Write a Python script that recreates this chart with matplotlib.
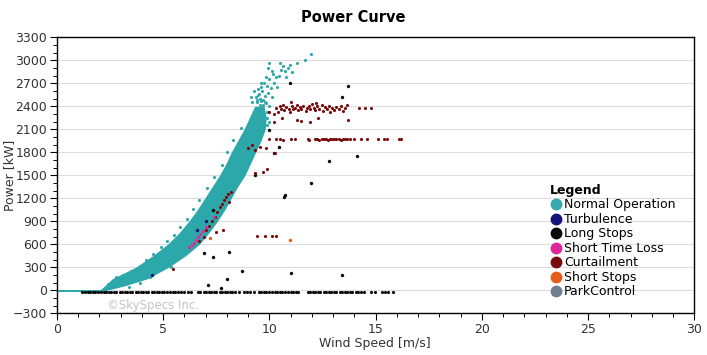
import matplotlib
matplotlib.use("Agg")
import matplotlib.pyplot as plt
from matplotlib.lines import Line2D
from matplotlib.ticker import MultipleLocator

# ---- data ----
# dense core of the normal-operation cloud (wind speed bounds per power level)
band_power = [10, 60, 150, 300, 450, 600, 750, 900, 1050, 1200, 1350, 1500, 1650, 1800, 1950, 2100, 2250, 2400]
band_left = [2.05, 2.25, 2.6, 3.7, 4.5, 5.2, 5.75, 6.2, 6.6, 6.95, 7.3, 7.65, 7.95, 8.2, 8.5, 8.8, 9.05, 9.3]
band_right = [2.5, 3.2, 4.25, 5.25, 6.05, 6.7, 7.15, 7.55, 7.9, 8.2, 8.5, 8.85, 9.1, 9.35, 9.6, 9.8, 9.85, 9.75]
# flat part of normal operation near 0 kW
flat_wind = [0.0, 2.4]
flat_low = [-26, -26]
flat_high = [8, 8]

# loose normal-operation points
normal_wind = [2.4, 2.8, 3.1, 3.5, 3.9, 4.2, 4.5, 4.9, 5.2, 5.5, 5.8, 6.1, 6.4, 6.7, 7.05, 7.4,
               7.75, 8.0, 8.3, 8.65, 3.4, 3.9, 4.4, 5.35, 5.95, 6.45, 7.0, 7.4, 7.8, 8.3, 8.7, 9.05,
               9.3, 9.6, 9.9, 9.9, 9.95, 10.0, 9.2, 9.4, 9.55, 9.8, 9.15, 9.3, 9.45, 9.6,
               9.75, 9.9, 9.25, 9.4, 9.55, 9.7, 9.85, 10.0, 9.35, 9.5, 9.65, 9.8, 9.95, 10.1,
               9.6, 9.75, 9.9, 10.05, 10.2, 9.85, 10.0, 10.15, 10.35, 10.3, 9.95, 10.1, 10.45,
               10.55, 10.65, 10.75, 10.85, 10.95, 10.5, 11.3, 11.65, 11.97, 10.8, 11.05, 10.0,
               2.9, 3.3, 4.1, 4.8, 5.5, 6.1, 6.6, 7.0, 7.6, 8.0, 8.5, 9.5, 9.7, 9.45, 9.6]
normal_power = [80, 170, 200, 250, 320, 400, 470, 560, 640, 720, 830, 930, 1060, 1180, 1330, 1480,
                1640, 1800, 1960, 2120, 40, 90, 170, 300, 480, 640, 820, 940, 1120, 1380, 1600, 1800,
                1900, 2050, 2150, 2250, 2320, 2200, 2450, 2480, 2500, 2460, 2520, 2350, 2550, 2470,
                2290, 2330, 2600, 2450, 2420, 2480, 2440, 2400, 2520, 2560, 2600, 2540, 2580, 2520,
                2650, 2700, 2660, 2640, 2700, 2780, 2760, 2820, 2650, 2780, 2900, 2860, 2800,
                2880, 2930, 2860, 2900, 2940, 2960, 2970, 3000, 3080, 2780, 2850, 2960,
                130, 170, 300, 430, 600, 780, 900, 1060, 1250, 1400, 1700, 2380, 2420, 2620, 2700]

turb_wind = [4.45, 7.0, 6.6]
turb_power = [200, 900, 780]

# long stops: dense row just below 0 kW plus scattered points
stop_row_level = -18
stop_row_wind = [1.2, 1.3, 1.45, 1.55, 1.7, 1.8, 1.95, 2.05, 2.2, 2.3, 2.45, 2.55, 2.7, 2.8, 2.95,
                 3.05, 3.2, 3.3, 3.45, 3.55, 3.7, 3.8, 3.95, 4.05, 4.2, 4.3, 4.45, 4.55, 4.7, 4.8,
                 4.95, 5.05, 5.2, 5.3, 5.45, 5.55, 5.7, 5.85, 6.0, 6.15, 6.3, 6.65, 6.75, 6.9, 7.0,
                 7.15, 7.25, 7.4, 7.5, 7.65, 7.75, 7.9, 8.0, 8.15, 8.25, 8.4, 8.55, 8.8, 8.95, 9.1,
                 9.25, 9.5, 9.6, 9.75, 9.85, 10.0, 10.1, 10.25, 10.35, 10.5, 10.6, 10.75, 10.85,
                 11.0, 11.1, 11.25, 11.35, 11.8, 11.9, 12.05, 12.15, 12.3, 12.4, 12.55, 12.65, 12.8,
                 12.9, 13.05, 13.15, 13.3, 13.4, 13.55, 13.65, 13.8, 13.9, 14.05, 14.15, 14.3,
                 14.45, 14.8, 14.95, 15.3, 15.45, 15.6, 15.8]
long_wind = [6.9, 7.1, 7.35, 7.7, 8.0, 8.1, 8.7, 10.7, 10.75, 11.0, 11.95, 12.8, 13.4, 13.4,
             13.7, 14.1, 10.45, 10.2, 10.0, 10.95, 7.35, 9.3]
long_power = [488, 70, 435, 30, 150, 500, 250, 1220, 1240, 225, 1400, 1690, 200, 2520,
              2660, 1750, 1870, 1790, 2090, 2700, 1047, 1500]

stl_wind = [6.2, 6.35, 6.45, 6.55, 6.65, 6.75, 6.85, 7.0, 7.4]
stl_power = [560, 590, 620, 650, 690, 730, 770, 820, 960]

curt_wind = [10.3, 10.4, 10.5, 10.55, 10.65, 10.7, 10.8, 10.9, 10.95, 11.05, 11.1, 11.2, 11.3,
             11.35, 11.45, 11.5, 11.6, 11.7, 11.75, 11.85, 11.9, 12.0, 12.1, 12.15, 12.25, 12.35,
             12.45, 12.5, 12.6, 12.7, 12.8, 12.85, 12.95, 13.05, 13.15, 13.25, 13.35, 13.45,
             13.55, 13.65, 14.2, 14.5, 14.8, 11.0, 12.2, 10.2, 10.0,
             10.2, 11.3, 11.5, 12.3, 13.7, 10.6, 11.9,
             10.0, 10.3, 10.5, 10.65, 11.0, 11.2, 11.8, 11.85, 12.15, 12.25, 12.35, 12.45, 12.55,
             12.65, 12.75, 12.85, 12.95, 13.05, 13.15, 13.25, 13.35, 13.45, 13.55, 13.65, 13.8,
             14.0, 14.3, 14.6, 15.1, 15.4, 15.55, 16.1, 16.2,
             9.3, 9.55, 9.85, 10.25, 9.3, 9.7, 9.9, 9.4, 9.8, 10.1, 10.3, 5.45, 6.7, 6.9, 7.0,
             7.15, 7.3, 7.45, 7.5, 7.55, 7.65, 7.75, 7.8, 7.85, 7.95, 8.05, 8.2, 8.1, 9.0, 9.2]
curt_power = [2380, 2330, 2400, 2360, 2420, 2350, 2390, 2370, 2330, 2400, 2360, 2380, 2420,
              2350, 2390, 2370, 2410, 2340, 2380, 2400, 2360, 2430, 2380, 2350, 2400, 2370,
              2420, 2340, 2390, 2360, 2400, 2330, 2380, 2350, 2390, 2360, 2400, 2340,
              2380, 2420, 2380, 2380, 2380, 2450, 2440, 2300, 2330,
              2190, 2220, 2210, 2250, 2220, 2250, 2200,
              1975, 1970, 1980, 1965, 1975, 1970, 1975, 1960, 1970, 1980, 1965, 1975, 1970,
              1980, 1965, 1975, 1970, 1980, 1970, 1975, 1965, 1975, 1970, 1980, 1970,
              1975, 1970, 1975, 1970, 1975, 1970, 1975, 1970,
              1830, 1870, 1855, 1790, 1530, 1540, 1580, 705, 705, 705, 705, 280, 640, 700, 780,
              840, 900, 960, 760, 1020, 1080, 1130, 785, 1180, 1220, 1250, 1280, 1150, 1850, 1900]

short_stop_wind = [7.2, 10.95]
short_stop_power = [680, 655]

park_wind = []
park_power = []

legend_labels = ["Normal Operation", "Turbulence", "Long Stops", "Short Time Loss",
                 "Curtailment", "Short Stops", "ParkControl"]
legend_colors = ["#35a8ad", "#141478", "#0a0a0a", "#e0269c", "#7a0a0a", "#e45c1c", "#6f7d8e"]

teal = "#2ca8aa"

# ---- figure ----
fig = plt.figure(figsize=(7.07, 3.55), dpi=100)
ax = fig.add_axes([0.0806, 0.1175, 0.9016, 0.7774])

ax.fill_between(flat_wind, flat_low, flat_high, color=teal, lw=0, zorder=2)
ax.fill_betweenx(band_power, band_left, band_right, color=teal, lw=0, zorder=2)
ax.scatter(normal_wind, normal_power, s=5, color=teal, lw=0, zorder=3)
ax.scatter(stop_row_wind, [stop_row_level] * len(stop_row_wind), s=5, color="#0a0a0a", lw=0, zorder=3)
ax.scatter(long_wind, long_power, s=6, color="#0a0a0a", lw=0, zorder=4)
ax.scatter(curt_wind, curt_power, s=5, color="#7a0a0a", lw=0, zorder=4)
ax.scatter(stl_wind, stl_power, s=5, color="#e0269c", lw=0, zorder=4)
ax.scatter(turb_wind, turb_power, s=6, color="#141478", lw=0, zorder=4)
ax.scatter(short_stop_wind, short_stop_power, s=6, color="#e45c1c", lw=0, zorder=4)
ax.scatter(park_wind, park_power, s=6, color="#6f7d8e", lw=0, zorder=4)

ax.set_xlim(0, 30)
ax.set_ylim(-300, 3300)
ax.set_xticks(range(0, 31, 5))
ax.set_yticks(range(-300, 3301, 300))
ax.xaxis.set_minor_locator(MultipleLocator(1))
ax.yaxis.set_minor_locator(MultipleLocator(100))
ax.yaxis.grid(True, color="#dcdcdc", lw=0.8)
ax.set_axisbelow(True)
ax.tick_params(which="major", length=5, width=0.8, labelsize=9, labelcolor="#333333", pad=2)
ax.tick_params(which="minor", length=3, width=0.7)
for sp in ax.spines.values():
    sp.set_color("black")
    sp.set_linewidth(1)

ax.text(2.35, -245, "\u00a9SkySpecs Inc.", fontsize=8.5, color="#c4c4c4", zorder=1)

fig.text(0.5, 0.952, "Power Curve", ha="center", va="center", fontsize=10.5, fontweight="bold")
fig.text(0.013, 0.507, "Power [kW]", rotation=90, ha="center", va="center", fontsize=9, color="#333333")
fig.text(0.53, 0.031, "Wind Speed [m/s]", ha="center", va="center", fontsize=9, color="#333333")

handles = [Line2D([], [], marker="o", ls="", markersize=7.5, color=c) for c in legend_colors]
leg = ax.legend(handles, legend_labels, title="Legend", loc="upper left",
                bbox_to_anchor=(0.778, 0.482), bbox_transform=fig.transFigure,
                frameon=False, fontsize=9, handletextpad=0.2, labelspacing=0.12,
                borderpad=0, handlelength=0.9, borderaxespad=0,
                title_fontproperties={"weight": "bold", "size": 9})
leg._legend_box.align = "left"

fig.savefig("out.png", dpi=100)
